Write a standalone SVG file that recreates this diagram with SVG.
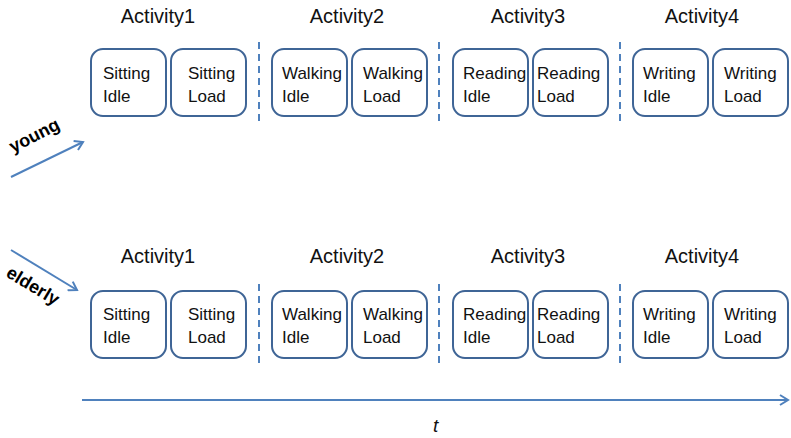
<svg xmlns="http://www.w3.org/2000/svg" width="791" height="438" viewBox="0 0 791 438">
  <style>
    .box { fill: #ffffff; stroke: #3f6596; stroke-width: 2; }
    .lbl { font-family: "Liberation Sans", Arial, sans-serif; font-size: 17px; fill: #111; }
    .act { font-family: "Liberation Sans", Arial, sans-serif; font-size: 20px; fill: #111; text-anchor: middle; }
    .sep { stroke: #4f81bd; stroke-width: 2; stroke-dasharray: 7 5; fill: none; }
    .arr { stroke: #4f81bd; stroke-width: 2; fill: none; }
    .grp { font-family: "Liberation Sans", Arial, sans-serif; font-size: 18px; font-weight: bold; fill: #000; }
  </style>
  <defs>
    <marker id="head" viewBox="0 0 12 12" refX="10" refY="6" markerWidth="6" markerHeight="6" orient="auto" markerUnits="strokeWidth">
      <path d="M2,1 L10,6 L2,11" fill="none" stroke="#4f81bd" stroke-width="2"/>
    </marker>
  </defs>

  <!-- top row: young -->
  <g id="young-labels">
    <text class="act" x="158" y="23">Activity1</text>
    <text class="act" x="347" y="23">Activity2</text>
    <text class="act" x="528" y="23">Activity3</text>
    <text class="act" x="702" y="23">Activity4</text>
  </g>
  <g id="y-sitting-idle"><rect class="box" x="91" y="49" width="75" height="67" rx="12"/><text class="lbl" x="103" y="79">Sitting</text><text class="lbl" x="103" y="102">Idle</text></g>
  <g id="y-sitting-load"><rect class="box" x="171" y="49" width="75" height="67" rx="12"/><text class="lbl" x="188" y="79">Sitting</text><text class="lbl" x="188" y="102">Load</text></g>
  <g id="y-walking-idle"><rect class="box" x="272" y="49" width="75" height="67" rx="12"/><text class="lbl" x="282" y="79">Walking</text><text class="lbl" x="282" y="102">Idle</text></g>
  <g id="y-walking-load"><rect class="box" x="352" y="49" width="75" height="67" rx="12"/><text class="lbl" x="363" y="79">Walking</text><text class="lbl" x="363" y="102">Load</text></g>
  <g id="y-reading-idle"><rect class="box" x="453" y="49" width="75" height="67" rx="12"/><text class="lbl" x="463" y="79">Reading</text><text class="lbl" x="463" y="102">Idle</text></g>
  <g id="y-reading-load"><rect class="box" x="533" y="49" width="75" height="67" rx="12"/><text class="lbl" x="537" y="79">Reading</text><text class="lbl" x="537" y="102">Load</text></g>
  <g id="y-writing-idle"><rect class="box" x="633" y="49" width="75" height="67" rx="12"/><text class="lbl" x="643" y="79">Writing</text><text class="lbl" x="643" y="102">Idle</text></g>
  <g id="y-writing-load"><rect class="box" x="713" y="49" width="75" height="67" rx="12"/><text class="lbl" x="724" y="79">Writing</text><text class="lbl" x="724" y="102">Load</text></g>

  <!-- bottom row: elderly -->
  <g id="elderly-labels">
    <text class="act" x="158" y="263">Activity1</text>
    <text class="act" x="347" y="263">Activity2</text>
    <text class="act" x="528" y="263">Activity3</text>
    <text class="act" x="702" y="263">Activity4</text>
  </g>
  <g id="e-sitting-idle"><rect class="box" x="91" y="291" width="75" height="67" rx="12"/><text class="lbl" x="103" y="320">Sitting</text><text class="lbl" x="103" y="343">Idle</text></g>
  <g id="e-sitting-load"><rect class="box" x="171" y="291" width="75" height="67" rx="12"/><text class="lbl" x="188" y="320">Sitting</text><text class="lbl" x="188" y="343">Load</text></g>
  <g id="e-walking-idle"><rect class="box" x="272" y="291" width="75" height="67" rx="12"/><text class="lbl" x="282" y="320">Walking</text><text class="lbl" x="282" y="343">Idle</text></g>
  <g id="e-walking-load"><rect class="box" x="352" y="291" width="75" height="67" rx="12"/><text class="lbl" x="363" y="320">Walking</text><text class="lbl" x="363" y="343">Load</text></g>
  <g id="e-reading-idle"><rect class="box" x="453" y="291" width="75" height="67" rx="12"/><text class="lbl" x="463" y="320">Reading</text><text class="lbl" x="463" y="343">Idle</text></g>
  <g id="e-reading-load"><rect class="box" x="533" y="291" width="75" height="67" rx="12"/><text class="lbl" x="537" y="320">Reading</text><text class="lbl" x="537" y="343">Load</text></g>
  <g id="e-writing-idle"><rect class="box" x="633" y="291" width="75" height="67" rx="12"/><text class="lbl" x="643" y="320">Writing</text><text class="lbl" x="643" y="343">Idle</text></g>
  <g id="e-writing-load"><rect class="box" x="713" y="291" width="75" height="67" rx="12"/><text class="lbl" x="724" y="320">Writing</text><text class="lbl" x="724" y="343">Load</text></g>

  <!-- group labels -->
  <g id="young"><text class="grp" transform="translate(13,153) rotate(-27)">young</text></g>
  <g id="elderly"><text class="grp" transform="translate(5,276) rotate(31)">elderly</text></g>
  <g id="time"><text x="433" y="432" font-family="Liberation Sans, Arial, sans-serif" font-size="19" font-style="italic" fill="#111">t</text></g>

  <!-- separators and arrows -->
  <g id="connectors">
    <line class="sep" x1="259" y1="42" x2="259" y2="123"/>
    <line class="sep" x1="439" y1="42" x2="439" y2="123"/>
    <line class="sep" x1="620" y1="42" x2="620" y2="123"/>
    <line class="sep" x1="259" y1="284" x2="259" y2="365"/>
    <line class="sep" x1="439" y1="284" x2="439" y2="365"/>
    <line class="sep" x1="620" y1="284" x2="620" y2="365"/>
    <line class="arr" x1="11" y1="177" x2="83" y2="142" marker-end="url(#head)"/>
    <line class="arr" x1="11" y1="250" x2="77" y2="290" marker-end="url(#head)"/>
    <line class="arr" x1="82" y1="400" x2="788" y2="400" marker-end="url(#head)"/>
  </g>
</svg>
